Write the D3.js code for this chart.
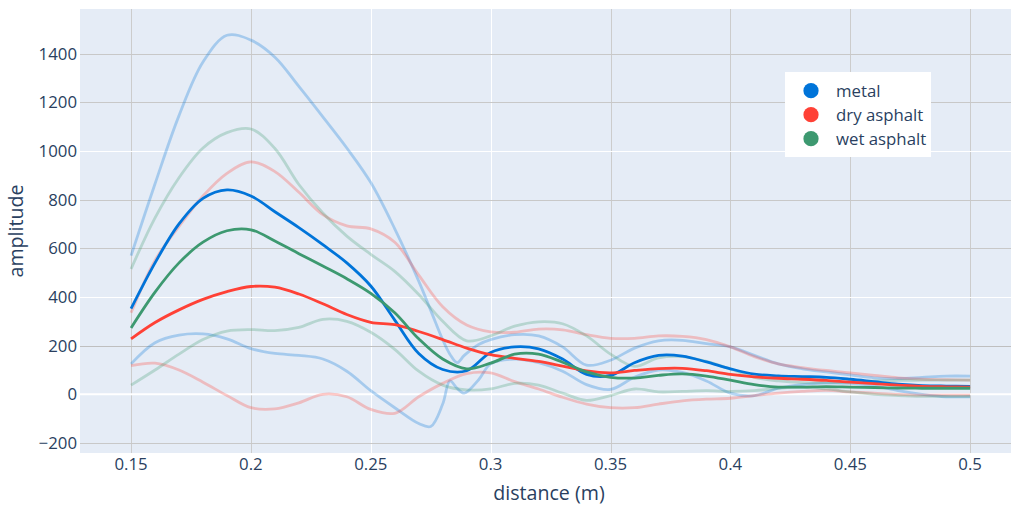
<!DOCTYPE html>
<html>
<head>
<meta charset="utf-8">
<script src="https://cdn.jsdelivr.net/npm/d3@7"></script>
<style>
  body { margin: 0; background: #fff; }
  svg { display: block; overflow: hidden; }
  text { font-family: "Open Sans", "DejaVu Sans", sans-serif; fill: #2a3f5f; }
</style>
</head>
<body>
<svg id="chart" width="1011" height="507"></svg>
<script>
// distances (m) shared by most traces
const distance = [0.15,0.16,0.17,0.18,0.19,0.20,0.21,0.22,0.23,0.24,0.25,0.26,0.27,0.28,0.29,
  0.30,0.31,0.32,0.33,0.34,0.35,0.36,0.37,0.38,0.39,0.40,0.41,0.42,0.43,0.44,0.45,0.46,0.47,0.48,0.49,0.50];
// the metal samples need a few extra points around the dip near 0.28
const distanceFine = [0.15,0.16,0.17,0.18,0.19,0.20,0.21,0.22,0.23,0.24,0.25,0.26,0.27,0.275,0.28,0.283,0.286,0.289,0.295,
  0.30,0.31,0.32,0.33,0.34,0.35,0.36,0.37,0.38,0.39,0.40,0.41,0.42,0.43,0.44,0.45,0.46,0.47,0.48,0.49,0.50];

const categories = ["metal", "dry asphalt", "wet asphalt"];

// individual measurements (faint)
const metalSampleA = [570,865,1145,1365,1475,1455,1385,1265,1140,1012,870,680,465,345,224,165,130,160,205,
  225,245,240,195,120,140,190,220,222,208,195,160,125,105,92,80,68,65,70,75,75];
const metalSampleB = [125,212,243,248,228,188,168,160,145,95,15,-55,-120,-132,-40,55,25,5,60,
  125,145,130,95,40,20,70,100,90,55,5,-5,25,40,46,45,35,15,0,-10,-10];
const dryAsphaltSampleA = [335,550,690,815,908,955,915,830,738,692,680,625,490,360,285,257,255,268,265,245,
  230,230,240,238,225,195,155,125,110,98,88,78,68,62,60,58];
const dryAsphaltSampleB = [118,128,100,50,-5,-55,-60,-35,0,-10,-62,-78,-10,45,85,88,52,22,-12,-40,
  -55,-55,-40,-27,-20,-16,-5,5,12,16,10,5,0,-3,-3,-3];
const wetAsphaltSampleA = [515,725,890,1012,1075,1090,1010,862,745,650,575,505,410,300,220,240,280,298,290,240,
  165,115,150,155,135,104,70,55,48,48,50,55,57,58,58,58];
const wetAsphaltSampleB = [38,100,165,225,260,266,262,275,308,300,255,185,95,38,18,22,45,38,5,-25,
  -5,22,10,12,15,12,15,25,30,22,10,0,-5,-8,-8,-8];

// averages (bold)
const metalMean = [352,540,700,805,840,815,750,685,615,540,445,305,168,102,97,172,195,187,145,82,
  78,130,160,157,133,105,83,76,73,70,62,52,42,36,34,33];
const dryAsphaltMean = [228,295,347,390,422,443,440,412,372,328,296,286,258,225,190,163,148,135,116,96,
  88,98,106,107,97,82,72,66,62,57,50,44,38,33,31,30];
const wetAsphaltMean = [273,420,540,625,672,676,630,578,527,475,415,335,228,145,105,128,165,165,132,92,
  70,67,78,84,75,58,40,30,30,32,30,28,26,25,25,25];

const xTicks = [0.15,0.2,0.25,0.3,0.35,0.4,0.45,0.5];
const yTicks = [-200,0,200,400,600,800,1000,1200,1400];

const colors = {"metal": "#0074D9", "dry asphalt": "#FF4136", "wet asphalt": "#3D9970"};

const svg = d3.select("#chart");
const plotLeft = 80, plotTop = 9, plotRight = 1019, plotBottom = 453;

const x = d3.scaleLinear().domain([0.1287, 0.5204]).range([plotLeft, plotRight]);
const y = d3.scaleLinear().domain([-241, 1583]).range([plotBottom, plotTop]);

svg.append("rect")
  .attr("x", plotLeft).attr("y", plotTop)
  .attr("width", plotRight - plotLeft).attr("height", plotBottom - plotTop)
  .attr("fill", "#E5ECF6");

// grid lines: some come out grey in the reference, the rest white
const greyX = [0.15, 0.2, 0.35, 0.4, 0.45, 0.5];
const greyY = [-200, 200, 600, 800, 1200, 1400];

svg.append("g").selectAll("line").data(xTicks).join("line")
  .attr("x1", d => Math.round(x(d)) + 0.5).attr("x2", d => Math.round(x(d)) + 0.5)
  .attr("y1", plotTop).attr("y2", plotBottom)
  .attr("stroke", d => greyX.includes(d) ? "#cccccc" : "#ffffff")
  .attr("stroke-width", 1);

svg.append("g").selectAll("line").data(yTicks.filter(d => d !== 0)).join("line")
  .attr("y1", d => Math.round(y(d)) + 0.5).attr("y2", d => Math.round(y(d)) + 0.5)
  .attr("x1", plotLeft).attr("x2", plotRight)
  .attr("stroke", d => d === 200 ? "#bfbfbf" : (greyY.includes(d) ? "#c8c8c8" : "#ffffff"))
  .attr("stroke-width", 1);

// zero line
svg.append("line")
  .attr("x1", plotLeft).attr("x2", plotRight)
  .attr("y1", y(0)).attr("y2", y(0))
  .attr("stroke", "#ffffff").attr("stroke-width", 2);

// tick labels
svg.append("g").selectAll("text").data(xTicks).join("text")
  .attr("x", d => x(d)).attr("y", 470)
  .attr("text-anchor", "middle")
  .attr("font-size", "16.8px")
  .text(d => d3.format("")(d));

svg.append("g").selectAll("text").data(yTicks).join("text")
  .attr("x", 77).attr("y", d => y(d))
  .attr("dy", "0.36em")
  .attr("text-anchor", "end")
  .attr("font-size", "16.8px")
  .text(d => d3.format("")(d));

// axis titles
svg.append("text")
  .attr("x", 549).attr("y", 500)
  .attr("text-anchor", "middle")
  .attr("font-size", "19.6px")
  .text("distance (m)");

svg.append("text")
  .attr("transform", "translate(23," + ((plotTop + plotBottom) / 2) + ") rotate(-90)")
  .attr("text-anchor", "middle")
  .attr("font-size", "19.6px")
  .text("amplitude");

const line = d3.line()
  .x(d => x(d[0]))
  .y(d => y(d[1]))
  .curve(d3.curveCatmullRom);

const samples = [
  {cat: "metal", xs: distanceFine, ys: metalSampleA},
  {cat: "metal", xs: distanceFine, ys: metalSampleB},
  {cat: "dry asphalt", xs: distance, ys: dryAsphaltSampleA},
  {cat: "dry asphalt", xs: distance, ys: dryAsphaltSampleB},
  {cat: "wet asphalt", xs: distance, ys: wetAsphaltSampleA},
  {cat: "wet asphalt", xs: distance, ys: wetAsphaltSampleB}
];
const means = [
  {cat: "metal", xs: distance, ys: metalMean},
  {cat: "dry asphalt", xs: distance, ys: dryAsphaltMean},
  {cat: "wet asphalt", xs: distance, ys: wetAsphaltMean}
];

const plot = svg.append("g");

plot.selectAll(".sample").data(samples).join("path")
  .attr("class", "sample")
  .attr("fill", "none")
  .attr("stroke", d => colors[d.cat])
  .attr("stroke-opacity", 0.28)
  .attr("stroke-width", 2.8)
  .attr("d", d => line(d.xs.map((v, i) => [v, d.ys[i]])));

plot.selectAll(".mean").data(means).join("path")
  .attr("class", "mean")
  .attr("fill", "none")
  .attr("stroke", d => colors[d.cat])
  .attr("stroke-width", 2.8)
  .attr("d", d => line(d.xs.map((v, i) => [v, d.ys[i]])));

// legend
const legend = svg.append("g");
legend.append("rect")
  .attr("x", 785).attr("y", 72)
  .attr("width", 146).attr("height", 85)
  .attr("fill", "#ffffff");

const item = legend.selectAll(".item").data(categories).join("g")
  .attr("class", "item")
  .attr("transform", (d, i) => "translate(0," + (90.7 + i * 24) + ")");

item.append("circle")
  .attr("cx", 811).attr("cy", 0).attr("r", 7.6)
  .attr("fill", d => colors[d]);

item.append("text")
  .attr("x", 836).attr("y", 0).attr("dy", "0.36em")
  .attr("font-size", "16.8px")
  .text(d => d);
</script>
</body>
</html>
